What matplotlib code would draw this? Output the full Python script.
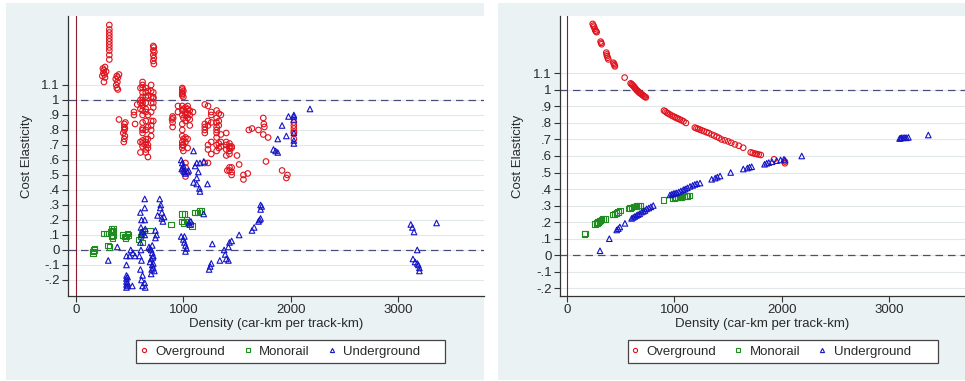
import matplotlib
matplotlib.use("Agg")
import matplotlib.pyplot as plt
from matplotlib.patches import Rectangle
from matplotlib.lines import Line2D

plt.rcParams['font.family'] = ['Liberation Sans', 'DejaVu Sans']

# ---------------- Left panel data ----------------
L_over_x = [310, 310, 310, 310, 310, 310, 310, 310, 310, 310, 310,
            250, 260, 270, 255, 265, 245, 280, 260, 270,
            380, 390, 370, 385, 375, 380, 390, 400,
            720, 725, 720, 730, 720, 725, 720, 725,
            400, 450, 450, 450, 440, 455, 450, 445, 460, 455,
            620, 620, 620, 620, 620, 620, 620, 620, 620, 620, 620, 620, 620, 620, 620, 620, 620,
            600, 600, 600, 600, 600, 600,
            650, 650, 650, 650, 650, 650, 650, 650, 650, 650, 650, 650, 650,
            670, 670, 670, 670, 670, 670, 670, 670,
            700, 700, 700, 700, 700, 700, 700, 700, 700,
            720, 720, 720, 720, 720, 720,
            540, 540, 550, 570,
            900, 905, 895, 900, 900,
            990, 990, 990, 990, 990, 990, 990, 990, 990, 990, 990, 990, 990, 990,
            1000, 1000, 1000, 1000, 1000, 1000, 1000,
            1020, 1020, 1020, 1020, 1020, 1020, 1020, 1020, 1020, 1020,
            1040, 1040, 1040, 1040, 1040, 1040,
            1060, 1060, 1060, 1060, 1090, 950, 950,
            1200, 1200, 1200, 1200, 1200, 1200,
            1230, 1230, 1230, 1230, 1230, 1230,
            1260, 1260, 1260, 1260, 1260,
            1310, 1310, 1310, 1310, 1310, 1310, 1310, 1310, 1310,
            1330, 1330, 1330, 1330, 1330,
            1350, 1350, 1350, 1350,
            1400, 1400, 1400, 1400, 1400,
            1430, 1430, 1430, 1430, 1430, 1430, 1430,
            1450, 1450, 1450, 1450, 1450, 1410,
            1500, 1520, 1560, 1560, 1600,
            1610, 1640, 1700, 1745, 1750, 1755, 1745, 1790, 1770,
            1920, 1970, 1960,
            2030, 2030, 2030, 2030, 2030, 2030]
L_over_y = [1.50, 1.47, 1.45, 1.43, 1.41, 1.39, 1.37, 1.35, 1.33, 1.30, 1.27,
            1.21, 1.20, 1.22, 1.18, 1.17, 1.16, 1.19, 1.12, 1.15,
            1.16, 1.15, 1.14, 1.12, 1.10, 1.08, 1.07, 1.17,
            1.36, 1.35, 1.33, 1.32, 1.30, 1.28, 1.26, 1.24,
            0.87, 0.84, 0.82, 0.80, 0.78, 0.76, 0.74, 0.72, 0.85, 0.81,
            1.12, 1.10, 1.08, 1.05, 1.02, 1.00, 0.98, 0.96, 0.93, 0.90, 0.85, 0.81, 0.80, 0.78, 0.73, 0.71, 0.69,
            1.08, 1.00, 0.98, 0.94, 0.72, 0.65,
            1.08, 1.05, 1.02, 0.98, 0.94, 0.92, 0.86, 0.80, 0.74, 0.72, 0.70, 0.67, 0.65,
            1.06, 1.03, 0.90, 0.82, 0.74, 0.70, 0.68, 0.62,
            1.10, 1.06, 1.02, 0.98, 0.92, 0.86, 0.83, 0.80, 0.76,
            1.05, 1.02, 1.01, 0.98, 0.95, 0.86,
            0.90, 0.92, 0.84, 0.97,
            0.89, 0.88, 0.87, 0.85, 0.82,
            1.08, 1.07, 1.05, 1.04, 1.03, 0.96, 0.93, 0.90, 0.84, 0.80, 0.76, 0.72, 0.70, 0.68,
            1.06, 1.02, 0.94, 0.88, 0.74, 0.70, 0.66,
            0.95, 0.92, 0.90, 0.86, 0.75, 0.72, 0.58, 0.55, 0.52, 0.49,
            0.96, 0.94, 0.91, 0.88, 0.74, 0.68,
            0.93, 0.90, 0.87, 0.83, 0.92, 0.96, 0.92,
            0.97, 0.84, 0.82, 0.80, 0.78, 0.58,
            0.96, 0.86, 0.83, 0.70, 0.67, 0.58,
            0.92, 0.90, 0.85, 0.72, 0.64,
            0.93, 0.88, 0.85, 0.82, 0.80, 0.78, 0.75, 0.70, 0.66,
            0.91, 0.86, 0.83, 0.71, 0.68,
            0.90, 0.77, 0.72, 0.69,
            0.78, 0.72, 0.70, 0.67, 0.63,
            0.71, 0.69, 0.68, 0.66, 0.64, 0.55, 0.53,
            0.69, 0.68, 0.52, 0.50, 0.55, 0.53,
            0.63, 0.57, 0.50, 0.47, 0.51,
            0.80, 0.81, 0.80, 0.88, 0.84, 0.82, 0.77, 0.75, 0.59,
            0.53, 0.50, 0.48,
            0.85, 0.83, 0.81, 0.79, 0.78, 0.74]

L_mono_x = [160, 165, 160, 170,
            255, 290, 320, 330, 340, 350, 335, 345, 340, 330, 300, 310,
            440, 470, 480, 460, 490, 450,
            580, 600, 610, 620, 640, 620, 690,
            885,
            990, 1010, 990, 1000, 1030, 1050, 1060, 1080,
            1110, 1130, 1150, 1170]
L_mono_y = [-0.01, 0.00, -0.02, 0.01,
            0.11, 0.11, 0.12, 0.14, 0.13, 0.14, 0.12, 0.10, 0.08, 0.09, 0.03, 0.02,
            0.10, 0.09, 0.11, 0.08, 0.10, 0.09,
            0.07, 0.09, 0.11, 0.12, 0.13, 0.05, 0.13,
            0.17,
            0.24, 0.24, 0.19, 0.18, 0.20, 0.19, 0.17, 0.16,
            0.25, 0.25, 0.26, 0.26]

L_under_x = [2180, 2030, 2030, 2030, 2030, 2030, 2030,
             1980, 1960, 1920, 1880, 1840, 1860, 1880,
             980, 990, 1000, 985, 1000, 1010, 1020, 1040, 1050, 995,
             1095, 1110, 1125, 1155, 1140, 1125, 1095, 1125, 1150, 1155, 1225, 1190,
             300, 385,
             470, 470, 470, 470, 470, 470, 470, 480, 480, 480,
             500, 510, 530, 525, 550,
             600, 610, 605, 615, 610, 600, 605, 590, 610, 600, 620, 610, 620,
             640, 640, 640, 645, 640, 640, 645,
             680, 690, 700, 710, 720, 700, 690, 710, 720, 730, 700, 710, 720, 705, 715,
             740, 750, 740,
             780, 790, 785, 800, 760, 800, 810, 820,
             980, 1010, 1000, 1010, 1020, 1030, 1020,
             1060, 1050, 1070, 1190,
             1270, 1240, 1250, 1260,
             1340, 1380, 1390, 1400, 1420, 1430, 1450, 1420,
             1520, 1640, 1660, 1700, 1710, 1720, 1720, 1730, 1720,
             3120, 3135, 3150, 3360, 3180,
             3140, 3160, 3180, 3190, 3200, 3200]
L_under_y = [0.94, 0.90, 0.89, 0.87, 0.78, 0.73, 0.71,
             0.89, 0.76, 0.83, 0.74, 0.67, 0.66, 0.65,
             0.60, 0.58, 0.56, 0.54, 0.53, 0.52, 0.51, 0.52, 0.53, 0.55,
             0.66, 0.56, 0.58, 0.58, 0.52, 0.48, 0.45, 0.44, 0.41, 0.39, 0.44, 0.59,
             -0.07, 0.02,
             -0.04, -0.10, -0.17, -0.19, -0.21, -0.23, -0.25, -0.18, -0.22, -0.24,
             -0.04, 0.00, -0.02, -0.24, -0.04,
             0.25, 0.20, 0.15, 0.12, 0.10, 0.05, 0.00, -0.04, -0.07, -0.13, -0.17, -0.20, -0.24,
             0.34, 0.28, 0.20, 0.14, 0.10, -0.22, -0.25,
             0.02, 0.01, 0.00, -0.02, -0.04, -0.06, -0.08, -0.10, -0.12, -0.14, -0.16, 0.03, -0.09, -0.13, -0.05,
             0.13, 0.10, 0.08,
             0.34, 0.30, 0.28, 0.25, 0.23, 0.21, 0.19, 0.22,
             0.09, 0.09, 0.07, 0.05, 0.03, 0.01, -0.01,
             0.17, 0.18, 0.19, 0.24,
             0.04, -0.13, -0.11, -0.09,
             -0.07, 0.00, -0.03, -0.06, 0.02, 0.05, 0.06, -0.07,
             0.10, 0.13, 0.15, 0.19, 0.20, 0.21, 0.27, 0.29, 0.30,
             0.17, 0.15, 0.12, 0.18, 0.00,
             -0.06, -0.08, -0.09, -0.10, -0.12, -0.14]

# ---------------- Right panel data ----------------
R_over_x = [237, 243, 249, 256, 262, 268, 274,
            311, 316, 320,
            364, 368, 371, 377, 383,
            430, 436, 440, 444,
            535,
            591, 600, 608, 615, 622, 630, 638, 646, 655, 663, 670, 677, 685, 692, 700, 708, 716, 724, 733,
            902, 915, 927, 940, 955, 974, 990, 1005, 1020, 1035, 1050, 1067, 1085, 1107,
            1190, 1205, 1220, 1237, 1255, 1275, 1299, 1320, 1346, 1370, 1393, 1415, 1440,
            1470, 1502, 1530, 1564, 1600, 1641,
            1711, 1730, 1750, 1767, 1785, 1805,
            1928, 2030, 2030]
R_over_y = [1.40, 1.39, 1.383, 1.37, 1.36, 1.355, 1.35,
            1.293, 1.285, 1.277,
            1.226, 1.215, 1.205, 1.195, 1.185,
            1.165, 1.158, 1.150, 1.143,
            1.075,
            1.040, 1.035, 1.030, 1.025, 1.020, 1.013, 1.007, 1.000, 0.995, 0.990, 0.985, 0.982, 0.978, 0.975, 0.970, 0.967, 0.962, 0.958, 0.955,
            0.875, 0.870, 0.863, 0.858, 0.852, 0.845, 0.840, 0.835, 0.830, 0.826, 0.821, 0.816, 0.810, 0.800,
            0.772, 0.768, 0.764, 0.760, 0.755, 0.750, 0.744, 0.739, 0.730, 0.724, 0.717, 0.710, 0.700,
            0.695, 0.688, 0.680, 0.670, 0.662, 0.650,
            0.622, 0.618, 0.614, 0.612, 0.609, 0.606,
            0.580, 0.556, 0.566]

R_mono_x = [159, 165, 258, 275, 289, 300, 310, 320, 335, 351,
            423, 440, 461, 475, 492,
            570, 585, 600, 616, 630, 645, 660, 678,
            896,
            983, 1000, 1015, 1030, 1045, 1060, 1075, 1090, 1107, 1120, 1138]
R_mono_y = [0.127, 0.130, 0.188, 0.195, 0.200, 0.205, 0.210, 0.216, 0.218, 0.220,
            0.246, 0.250, 0.256, 0.262, 0.270,
            0.283, 0.286, 0.288, 0.293, 0.295, 0.297, 0.299, 0.300,
            0.333,
            0.344, 0.346, 0.348, 0.349, 0.350, 0.352, 0.354, 0.356, 0.358, 0.359, 0.360]

R_under_x = [305, 392, 461, 476, 490, 538,
             600, 615, 630, 646, 660, 675, 693, 710, 725, 740, 760, 780, 802,
             958, 975, 990, 1005, 1020, 1040, 1060, 1083, 1100, 1120, 1145, 1170, 1190, 1210, 1238,
             1347, 1380, 1400, 1425, 1524,
             1642, 1680, 1700, 1720,
             1840, 1860, 1880, 1910, 1953, 1990, 2021, 2030,
             2187,
             3100, 3110, 3120, 3135, 3150, 3165, 3182, 3368]
R_under_y = [0.026, 0.099, 0.152, 0.160, 0.170, 0.192,
             0.222, 0.228, 0.234, 0.240, 0.245, 0.250, 0.260, 0.265, 0.270, 0.280, 0.285, 0.292, 0.300,
             0.364, 0.368, 0.372, 0.374, 0.376, 0.382, 0.388, 0.396, 0.400, 0.407, 0.416, 0.422, 0.428, 0.432, 0.436,
             0.459, 0.466, 0.472, 0.479, 0.500,
             0.521, 0.527, 0.532, 0.535,
             0.550, 0.556, 0.560, 0.565, 0.572, 0.576, 0.580, 0.575,
             0.600,
             0.706, 0.708, 0.711, 0.710, 0.712, 0.710, 0.713, 0.727]

yticks = [-0.2, -0.1, 0, 0.1, 0.2, 0.3, 0.4, 0.5, 0.6, 0.7, 0.8, 0.9, 1.0, 1.1]
ytick_labels = ['-.2', '-.1', '0', '.1', '.2', '.3', '.4', '.5', '.6', '.7', '.8', '.9', '1', '1.1']
xticks = [0, 1000, 2000, 3000]
xtick_labels = ['0', '1000', '2000', '3000']
series_names = ['Overground', 'Monorail', 'Underground']

# ---------------- Styling ----------------
W, H = 965, 381
BG = '#EAF2F3'
RED = '#E0141E'
GREEN = '#1E8C1E'
BLUE = '#1414C8'
FS = 9.5
TXT = '#2A2A2A'

fig = plt.figure(figsize=(W / 100, H / 100), dpi=100)
fig.patch.set_facecolor('white')


def px_rect(x0, y0, x1, y1):
    return [x0 / W, 1 - y1 / H, (x1 - x0) / W, (y1 - y0) / H]


# panel backgrounds
for (x0, x1) in [(6, 484), (498, 965)]:
    fig.patches.append(Rectangle((x0 / W, 1 - 380 / H), (x1 - x0) / W, (380 - 3) / H,
                                 transform=fig.transFigure, facecolor=BG,
                                 edgecolor='none', zorder=-10))

panels = [
    dict(rect=px_rect(68, 16, 484, 296), xlim=(-75, 3802), ylim=(-0.307, 1.56),
         over=(L_over_x, L_over_y), mono=(L_mono_x, L_mono_y), under=(L_under_x, L_under_y),
         ylab_x=27, leg_box=(135.5, 445), leg_x0=139),
    dict(rect=px_rect(560, 16, 965, 296), xlim=(-68, 3710), ylim=(-0.248, 1.448),
         over=(R_over_x, R_over_y), mono=(R_mono_x, R_mono_y), under=(R_under_x, R_under_y),
         ylab_x=518, leg_box=(627.5, 937.5), leg_x0=629.5),
]

for p in panels:
    ax = fig.add_axes(p['rect'])
    ax.set_zorder(1)
    ax.set_facecolor('white')
    ax.set_xlim(*p['xlim'])
    ax.set_ylim(*p['ylim'])
    for yt in yticks:
        ax.axhline(yt, color='#E2E7E9', lw=0.8, zorder=1)
    ax.axhline(0, color='#4A4E7A', lw=0.9, ls=(0, (6, 4)), zorder=2)
    ax.axhline(1, color='#4A4E7A', lw=0.9, ls=(0, (6, 4)), zorder=2)
    ax.axvline(0, color='#8B1A2B', lw=0.8, zorder=2)
    ms = 16
    ax.scatter(*p['over'], s=ms, marker='o', facecolors='none', edgecolors=RED, linewidths=0.8, zorder=3)
    ax.scatter(*p['mono'], s=ms, marker='s', facecolors='none', edgecolors=GREEN, linewidths=0.8, zorder=3)
    ax.scatter(*p['under'], s=ms, marker='^', facecolors='none', edgecolors=BLUE, linewidths=0.8, zorder=4)
    ax.set_yticks(yticks)
    ax.set_yticklabels(ytick_labels)
    ax.set_xticks(xticks)
    ax.set_xticklabels(xtick_labels)
    ax.tick_params(axis='both', labelsize=FS, length=4, width=0.8, color='#333333', labelcolor=TXT, pad=2)
    for s in ['top', 'right']:
        ax.spines[s].set_visible(False)
    for s in ['left', 'bottom']:
        ax.spines[s].set_color('#333333')
        ax.spines[s].set_linewidth(0.9)
    ax.set_xlabel('Density (car-km per track-km)', fontsize=FS, color=TXT, labelpad=1)
    fig.text(p['ylab_x'] / W, 1 - 156 / H, 'Cost Elasticity', rotation=90, fontsize=FS,
             color=TXT, ha='center', va='center')

    # legend box
    bx0, bx1 = p['leg_box']
    fig.patches.append(Rectangle((bx0 / W, 1 - 363 / H), (bx1 - bx0) / W, 23 / H,
                                 transform=fig.transFigure, facecolor='white',
                                 edgecolor='#444444', linewidth=0.9, zorder=2))
    handles = [Line2D([], [], ls='none', marker='o', mfc='none', mec=RED, ms=3, mew=0.8),
               Line2D([], [], ls='none', marker='s', mfc='none', mec=GREEN, ms=3, mew=0.8),
               Line2D([], [], ls='none', marker='^', mfc='none', mec=BLUE, ms=3, mew=0.8)]
    leg = fig.legend(handles, series_names, loc='center left', ncol=3,
                     bbox_to_anchor=(p['leg_x0'] / W, 1 - 351.5 / H),
                     fontsize=FS, frameon=False, borderpad=0, borderaxespad=0,
                     handletextpad=0.45, columnspacing=1.3, handlelength=0.8,
                     labelcolor=TXT)
    leg.set_zorder(3)

fig.savefig('out.png', dpi=100, facecolor='white')
